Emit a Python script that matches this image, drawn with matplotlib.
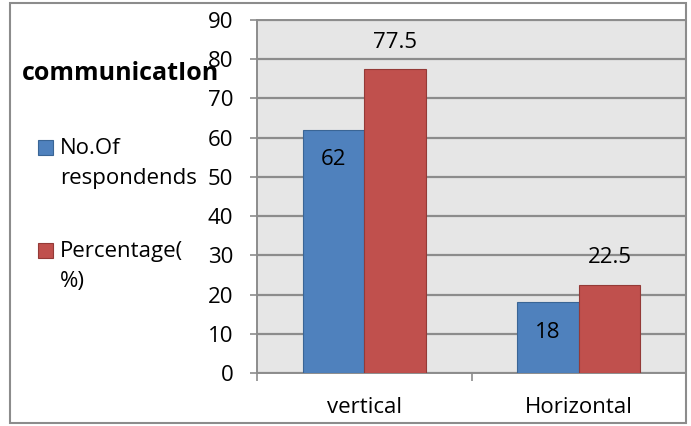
import matplotlib
matplotlib.use("Agg")
import matplotlib.pyplot as plt
from matplotlib.patches import Rectangle
import numpy as np

plt.rcParams['font.family'] = ['Open Sans', 'DejaVu Sans']

categories = ["vertical", "Horizontal"]
series_names = ["No.Of\nrespondends", "Percentage(\n%)"]
respondents = [62, 18]
percentage = [77.5, 22.5]
y_ticks = [0, 10, 20, 30, 40, 50, 60, 70, 80, 90]
legend_title = "communicatIon"

W, H = 691, 426
FS = 16
fig = plt.figure(figsize=(W / 100, H / 100), dpi=100)

def fx(px):
    return px / W

def fy(py):
    return 1 - py / H

# outer chart frame
fig.patches.append(Rectangle((fx(10), fy(423)), fx(676), (423 - 3) / H,
                             transform=fig.transFigure, fill=False,
                             edgecolor="#8c8c8c", linewidth=1.5))

ax = fig.add_axes([fx(257), fy(373), fx(429), 353 / H])
ax.set_facecolor("#e6e6e6")

x = np.arange(len(categories))
bw = 0.287
blue, red = "#4f81bd", "#c0504d"
b1 = ax.bar(x - bw / 2, respondents, bw, color=blue, edgecolor="#3a6595", linewidth=0.8, zorder=3)
b2 = ax.bar(x + bw / 2, percentage, bw, color=red, edgecolor="#943a37", linewidth=0.8, zorder=3)

for rect, v in zip(b1, respondents):
    ax.annotate(f"{v:g}", (rect.get_x() + rect.get_width() / 2, v),
                xytext=(0, -21.6), textcoords="offset points",
                ha="center", va="center", fontsize=FS, color="black", zorder=4)
for rect, v in zip(b2, percentage):
    ax.annotate(f"{v:g}", (rect.get_x() + rect.get_width() / 2, v),
                xytext=(0, 19.4), textcoords="offset points",
                ha="center", va="center", fontsize=FS, color="black", zorder=4)

ax.set_ylim(0, 90)
ax.set_xlim(-0.5, 1.5)
ax.set_yticks(y_ticks)
ax.yaxis.grid(True, color="#8c8c8c", linewidth=1.6, zorder=1)
ax.set_axisbelow(True)

ax.tick_params(axis="y", direction="out", length=5, width=1.2, color="#8c8c8c",
               labelsize=FS, pad=12)
ax.set_xticks(x)
ax.set_xticklabels(categories)
ax.tick_params(axis="x", which="major", length=0, labelsize=FS, pad=17)
ax.set_xticks([-0.5, 0.5, 1.5], minor=True)
ax.tick_params(axis="x", which="minor", direction="out", length=6, width=1.2, color="#8c8c8c")

for side in ["left", "bottom", "right", "top"]:
    ax.spines[side].set_color("#8c8c8c")
    ax.spines[side].set_linewidth(1.4)

# legend drawn at the left of the chart
fig.text(fx(22), fy(74), legend_title, fontsize=18, fontweight="bold",
         ha="left", va="center")
for (ytop, col, ecol, name) in [(140, blue, "#3a6595", series_names[0]),
                                (243, red, "#943a37", series_names[1])]:
    fig.patches.append(Rectangle((fx(38), fy(ytop + 15)), fx(15), 15 / H,
                                 transform=fig.transFigure, facecolor=col,
                                 edgecolor=ecol, linewidth=0.8))
    first, second = name.split("\n")
    fig.text(fx(60), fy(ytop + 8), first, fontsize=FS, ha="left", va="center")
    fig.text(fx(60), fy(ytop + 38), second, fontsize=FS, ha="left", va="center")

fig.savefig("out.png", dpi=100)
